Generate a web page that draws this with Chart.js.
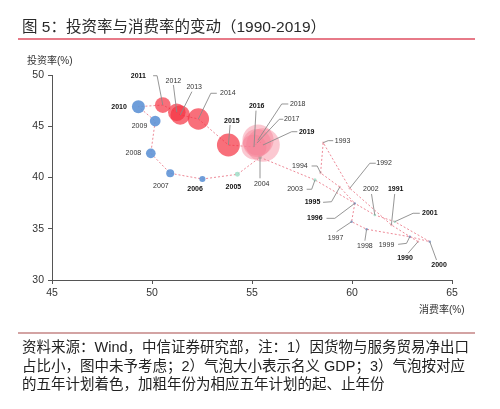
<!DOCTYPE html>
<html>
<head>
<meta charset="utf-8">
<script src="https://cdn.jsdelivr.net/npm/chart.js@4.4.1/dist/chart.umd.min.js"></script>
<style>
  html, body { margin: 0; padding: 0; background: #fff; }
  #wrap { position: relative; width: 500px; height: 409px; overflow: hidden; background: #fff; }
  #c { position: absolute; left: 0; top: 0; }
  .txt { position: absolute; font-family: "Liberation Sans", "Noto Sans CJK SC", sans-serif; white-space: nowrap; }
  #title { left: 22px; top: 17px; font-size: 15.5px; color: #2a2a2a; line-height: 20px; }
  #line1 { position: absolute; left: 18px; top: 38px; width: 457px; height: 2px; background: #e77a88; }
  #line2 { position: absolute; left: 18px; top: 332px; width: 457px; height: 2px; background: #d3a3a3; }
  #ytitle { left: 27px; top: 52px; font-size: 10px; color: #333; }
  #xtitle { left: 419px; top: 301px; font-size: 10px; color: #333; }
  #note { left: 22px; top: 338px; font-size: 14.5px; color: #222; line-height: 18.5px; }
</style>
</head>
<body>
<div id="wrap">
  <canvas id="c" width="500" height="409"></canvas>
  <div class="txt" id="title">图 5：投资率与消费率的变动（1990-2019）</div>
  <div id="line1"></div>
  <div class="txt" id="ytitle">投资率(%)</div>
  <div class="txt" id="xtitle">消费率(%)</div>
  <div id="line2"></div>
  <div class="txt" id="note">资料来源：Wind，中信证券研究部，注：1）因货物与服务贸易净出口<br>占比小，图中未予考虑；2）气泡大小表示名义 GDP；3）气泡按对应<br>的五年计划着色，加粗年份为相应五年计划的起、止年份</div>
</div>
<script>
// ---- data ----
const years = [1990, 1991, 1992, 1993, 1994, 1995, 1996, 1997, 1998, 1999,
               2000, 2001, 2002, 2003, 2004, 2005, 2006, 2007, 2008, 2009,
               2010, 2011, 2012, 2013, 2014, 2015, 2016, 2017, 2018, 2019];
const consumption = [63.30, 61.97, 59.89, 58.56, 58.43, 59.39, 60.14, 59.98, 60.73, 62.89,
                     63.89, 62.14, 61.14, 58.15, 55.40, 54.27, 52.52, 50.91, 49.94, 50.16,
                     49.32, 50.54, 51.24, 51.41, 52.32, 53.82, 55.10, 55.25, 55.30, 55.55];
const investment = [33.74, 35.37, 38.95, 43.40, 40.44, 39.07, 37.48, 35.69, 34.95, 34.22,
                    33.74, 35.69, 36.34, 39.76, 41.97, 40.31, 39.85, 40.41, 42.36, 45.51,
                    46.91, 47.07, 46.36, 46.10, 45.71, 43.17, 42.98, 43.37, 43.66, 43.17];
const gdp = [1.89, 2.20, 2.72, 3.57, 4.86, 6.13, 7.18, 7.97, 8.52, 9.06,
             10.03, 11.09, 12.17, 13.74, 16.18, 18.73, 21.94, 27.01, 31.92, 34.85,
             41.21, 48.79, 53.86, 59.30, 64.36, 68.89, 74.64, 83.20, 91.93, 98.65];
const plan = [7, 8, 8, 8, 8, 8, 9, 9, 9, 9,
              9, 10, 10, 10, 10, 10, 11, 11, 11, 11,
              11, 12, 12, 12, 12, 12, 13, 13, 13, 13];
const boldYears = [1990, 1991, 1995, 1996, 2000, 2001, 2005, 2006, 2010, 2011, 2015, 2016, 2019];
const xTicks = [45, 50, 55, 60, 65];
const yTicks = [30, 35, 40, 45, 50];

// ---- styles ----
const planColors = {
  7: 'rgba(230,150,160,0.6)',
  8: 'rgba(230,150,160,0.6)',
  9: 'rgba(120,145,195,0.85)',
  10: 'rgba(160,222,200,0.85)',
  11: 'rgba(95,148,214,0.9)',
  12: 'rgba(245,50,65,0.7)',
  13: 'rgba(245,125,145,0.42)'
};
function radiusFromGdp(g) { return Math.max(1.2, 0.179 * g - 0.86); }

// label placement (pixel offsets from point) and leader line elbows
const labelLayout = {
  1990: { t: [-13, 16], l: [[-10, 11.6]] },
  1991: { t: [4.3, -35.7], l: [[3.3, -31]] },
  1992: { t: [34.3, -25], l: [[26, -25], [20, -25]] },
  1993: { t: [19.4, -2], l: [[10, -2], [5, -2]] },
  1994: { t: [-20.7, -7], l: [[-9, -7], [-3.4, -7]] },
  1995: { t: [-27.3, 15.3], l: [[-16.7, 15.3], [-8.3, 14.7]] },
  1996: { t: [-40, 15], l: [[-28.3, 15], [-20, 15]] },
  1997: { t: [-16, 16.6], l: [[-15, 10]] },
  1998: { t: [-1.7, 16.7], l: [[-1.7, 11.4]] },
  1999: { t: [-23.3, 8.3], l: [[-11.7, 7.6], [-3.3, 6.6]] },
  2000: { t: [9.3, 23.3], l: [[6.7, 18.3]] },
  2001: { t: [35, -8.4], l: [[25, -8.4], [18.3, -8.4]] },
  2002: { t: [-4, -25.7], l: [[-3.3, -21]] },
  2003: { t: [-20, 9.3], l: [[-8.3, 9.3], [-3.3, 9.3]] },
  2004: { t: [1.7, 27], l: [[0, 21]] },
  2005: { t: [-4, 12.4], l: null },
  2006: { t: [-7.3, 10], l: null },
  2007: { t: [-9.3, 12.7], l: null },
  2008: { t: [-17.4, 0], l: null },
  2009: { t: [-15.7, 4.7], l: null },
  2010: { t: [-19.3, 0], l: null },
  2011: { t: [-24.4, -29.3], l: [[-9.7, -29.3], [-5.7, -29.3]] },
  2012: { t: [-3.4, -31.6], l: [[-3.4, -27.3]] },
  2013: { t: [14, -28.3], l: [[11.7, -23.3]] },
  2014: { t: [29.4, -26.3], l: [[18.4, -25.7], [12.4, -25.7]] },
  2015: { t: [3.4, -24.3], l: [[1.7, -20]] },
  2016: { t: [2.7, -41], l: [[2, -36.3]] },
  2017: { t: [34.7, -23.7], l: [[26.3, -23.7], [22.3, -23.7]] },
  2018: { t: [39.7, -36], l: [[30.3, -36], [23.7, -36]] },
  2019: { t: [43.7, -13.3], l: [[34.3, -13.3], [28.7, -13.3]] }
};

const bubbleData = years.map((yr, i) => ({ x: consumption[i], y: investment[i], r: radiusFromGdp(gdp[i]) }));
const lineData = years.map((yr, i) => ({ x: consumption[i], y: investment[i] }));

const labelPlugin = {
  id: 'yearLabels',
  afterDatasetsDraw(chart) {
    const ctx = chart.ctx;
    const xs = chart.scales.x, ys = chart.scales.y;
    ctx.save();
    years.forEach((yr, i) => {
      const px = xs.getPixelForValue(consumption[i]);
      const py = ys.getPixelForValue(investment[i]);
      const lay = labelLayout[yr];
      if (!lay) return;
      if (lay.l) {
        ctx.beginPath();
        ctx.strokeStyle = '#8a8a8a';
        ctx.lineWidth = 0.9;
        ctx.moveTo(px + lay.l[0][0], py + lay.l[0][1]);
        for (let k = 1; k < lay.l.length; k++) ctx.lineTo(px + lay.l[k][0], py + lay.l[k][1]);
        ctx.lineTo(px, py);
        ctx.stroke();
      }
      const bold = boldYears.includes(yr);
      ctx.font = (bold ? 'bold ' : '') + '7px "Liberation Sans", Arial, sans-serif';
      ctx.fillStyle = bold ? '#111' : '#333';
      ctx.textAlign = 'center';
      ctx.textBaseline = 'middle';
      ctx.fillText(String(yr), px + lay.t[0], py + lay.t[1]);
    });
    ctx.restore();
  }
};

const tickFont = { family: '"Liberation Sans", Arial, sans-serif', size: 10.5 };

new Chart(document.getElementById('c'), {
  type: 'bubble',
  data: {
    datasets: [
      {
        type: 'bubble',
        data: bubbleData,
        backgroundColor: (c) => planColors[plan[c.dataIndex]],
        borderWidth: 0,
        hoverBorderWidth: 0,
        order: 1
      },
      {
        type: 'line',
        data: lineData,
        borderColor: 'rgba(230,90,110,0.9)',
        borderWidth: 0.8,
        borderDash: [2, 2],
        pointRadius: 0,
        tension: 0,
        fill: false,
        order: 2
      }
    ]
  },
  options: {
    responsive: false,
    animation: false,
    devicePixelRatio: 1,
    layout: { padding: { left: 0, top: 75, right: 48, bottom: 105 } },
    plugins: { legend: { display: false }, tooltip: { enabled: false }, title: { display: false } },
    scales: {
      x: {
        type: 'linear', min: 45, max: 65,
        afterBuildTicks: (s) => { s.ticks = xTicks.map(v => ({ value: v })); },
        afterFit: (s) => { s.height = 24; },
        ticks: { color: '#333', font: tickFont, padding: 3 },
        grid: { display: true, drawOnChartArea: false, drawTicks: true, tickLength: 4, color: '#555' },
        border: { display: true, color: '#555', width: 1 }
      },
      y: {
        type: 'linear', min: 30, max: 50,
        afterBuildTicks: (s) => { s.ticks = yTicks.map(v => ({ value: v })); },
        afterFit: (s) => { s.width = 52; },
        ticks: { color: '#333', font: tickFont, padding: 4 },
        grid: { display: true, drawOnChartArea: false, drawTicks: true, tickLength: 4, color: '#555' },
        border: { display: true, color: '#555', width: 1 }
      }
    }
  },
  plugins: [labelPlugin]
});
</script>
</body>
</html>
